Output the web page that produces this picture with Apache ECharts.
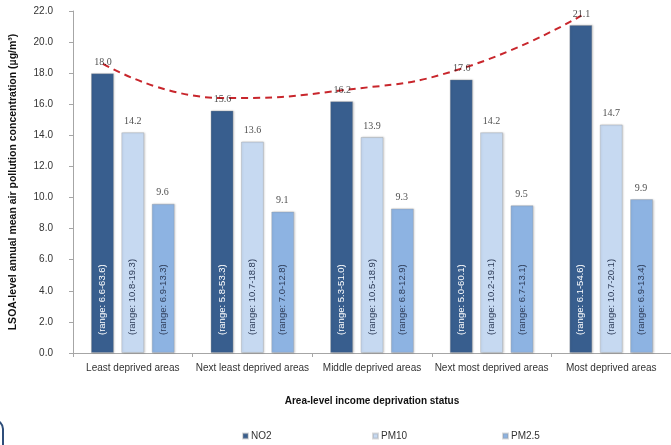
<!DOCTYPE html>
<html>
<head>
<meta charset="utf-8">
<script src="https://cdn.jsdelivr.net/npm/echarts@6/dist/echarts.min.js"></script>
<style>
  html, body { margin: 0; padding: 0; background: #fff; }
  #chart { width: 671px; height: 445px; }
</style>
</head>
<body>
<div id="chart"></div>
<script>
// Income deprivation quintiles
const categories = ['Least deprived areas', 'Next least deprived areas', 'Middle deprived areas', 'Next most deprived areas', 'Most deprived areas'];

// LSOA-level annual mean concentrations (µg/m³)
const no2Values  = [18.0, 15.6, 16.2, 17.6, 21.1];
const pm10Values = [14.2, 13.6, 13.9, 14.2, 14.7];
const pm25Values = [9.6, 9.1, 9.3, 9.5, 9.9];

// Min–max range text shown inside each bar
const no2Ranges  = ['6.6-63.6', '5.8-53.3', '5.3-51.0', '5.0-60.1', '6.1-54.6'];
const pm10Ranges = ['10.8-19.3', '10.7-18.8', '10.5-18.9', '10.2-19.1', '10.7-20.1'];
const pm25Ranges = ['6.9-13.3', '7.0-12.8', '6.8-12.9', '6.7-13.1', '6.9-13.4'];

// Dashed trend curve over the NO2 bars
const trendValues = [18.6, 16.4, 16.9, 18.3, 21.7];

const yTicks = { min: 0, max: 22, interval: 2 };

const FONT = "'Liberation Sans', 'DejaVu Sans', sans-serif";
const SERIF = "'Liberation Serif', 'DejaVu Serif', serif";

const gridLeft = 73, gridTop = 11, gridWidth = 609, gridHeight = 342;
const barWidth = 23, barGapPct = 32;
const catWidth = gridWidth / categories.length;
// Horizontal offset of each bar inside its category, in category units
const barStep = (barWidth + barWidth * barGapPct / 100) / catWidth;
const offsets = { no2: -barStep, pm10: 0, pm25: barStep };

const colors = { no2: '#385E8E', pm10: '#C6D9F1', pm25: '#8DB3E2' };

function barSeries(name, values, color, ranges, rangeColor) {
  return {
    name: name,
    type: 'bar',
    xAxisIndex: 0,
    barWidth: barWidth,
    barGap: barGapPct + '%',
    data: values,
    itemStyle: {
      color: color,
      borderColor: 'rgba(150,150,150,0.35)',
      borderWidth: 1,
      shadowColor: 'rgba(0,0,0,0.18)',
      shadowBlur: 2,
      shadowOffsetX: 1
    },
    label: {
      show: true,
      position: 'insideBottom',
      distance: 18,
      rotate: 90,
      align: 'left',
      verticalAlign: 'middle',
      fontFamily: FONT,
      fontSize: 9.5,
      color: rangeColor,
      formatter: p => '(range: ' + ranges[p.dataIndex] + ')'
    }
  };
}

// Value text above each bar, placed at the bar's centre on a hidden value axis
function valueLabels(values, offset) {
  return {
    type: 'scatter',
    xAxisIndex: 1,
    symbolSize: 0,
    silent: true,
    data: values.map((v, i) => [i + 0.5 + offset, v]),
    label: {
      show: true,
      position: 'top',
      distance: 6,
      fontFamily: SERIF,
      fontSize: 10,
      color: '#222',
      formatter: p => p.value[1].toFixed(1)
    },
    z: 6
  };
}

function legendAt(name, left) {
  return {
    data: [name],
    left: left,
    top: 431,
    padding: 0,
    icon: 'rect',
    itemWidth: 5,
    itemHeight: 5,
    itemGap: 0,
    textStyle: { fontFamily: FONT, fontSize: 10, color: '#333', padding: [0, 0, 0, -2] }
  };
}

const chart = echarts.init(document.getElementById('chart'), null, { renderer: 'canvas' });

const option = {
  animation: false,
  textStyle: { fontFamily: FONT },
  grid: { left: gridLeft, top: gridTop, width: gridWidth, height: gridHeight },
  legend: [legendAt('NO2', 242), legendAt('PM10', 372), legendAt('PM2.5', 502)],
  xAxis: [
    {
      type: 'category',
      data: categories,
      axisLine: { lineStyle: { color: '#A6A6A6', width: 1 } },
      axisTick: { show: true, length: 4, lineStyle: { color: '#A6A6A6' } },
      axisLabel: { fontFamily: FONT, fontSize: 10, color: '#333', margin: 10, interval: 0 },
      name: 'Area-level income deprivation status',
      nameLocation: 'middle',
      nameGap: 43,
      nameTextStyle: { fontFamily: FONT, fontSize: 10, fontWeight: 'bold', color: '#111' }
    },
    {
      type: 'value',
      min: 0,
      max: categories.length,
      show: false
    }
  ],
  yAxis: {
    type: 'value',
    min: yTicks.min,
    max: yTicks.max,
    interval: yTicks.interval,
    splitLine: { show: false },
    axisLine: { show: true, lineStyle: { color: '#A6A6A6', width: 1 } },
    axisTick: { show: true, length: 4, lineStyle: { color: '#A6A6A6' } },
    axisLabel: {
      fontFamily: FONT, fontSize: 10, color: '#333', margin: 20,
      formatter: v => v.toFixed(1)
    },
    name: 'LSOA-level annual mean air pollution concentration (µg/m³)',
    nameLocation: 'middle',
    nameGap: 54,
    nameTextStyle: { fontFamily: FONT, fontSize: 10.5, fontWeight: 'bold', color: '#111' }
  },
  series: [
    barSeries('NO2', no2Values, colors.no2, no2Ranges, '#ffffff'),
    barSeries('PM10', pm10Values, colors.pm10, pm10Ranges, '#2E3C58'),
    barSeries('PM2.5', pm25Values, colors.pm25, pm25Ranges, '#2E3C58'),
    valueLabels(no2Values, offsets.no2),
    valueLabels(pm10Values, offsets.pm10),
    valueLabels(pm25Values, offsets.pm25),
    {
      name: 'trend',
      type: 'line',
      xAxisIndex: 1,
      smooth: 0.5,
      symbol: 'none',
      data: trendValues.map((v, i) => [i + 0.5 + offsets.no2, v]),
      lineStyle: { color: '#C8262C', width: 2, type: [7, 5] },
      z: 5,
      silent: true
    }
  ],
  graphic: [
    {
      type: 'rect',
      shape: { x: -22, y: 420, width: 25, height: 60, r: 9 },
      style: { fill: 'none', stroke: '#2F4E7A', lineWidth: 2 }
    }
  ]
};

chart.setOption(option);
</script>
</body>
</html>
